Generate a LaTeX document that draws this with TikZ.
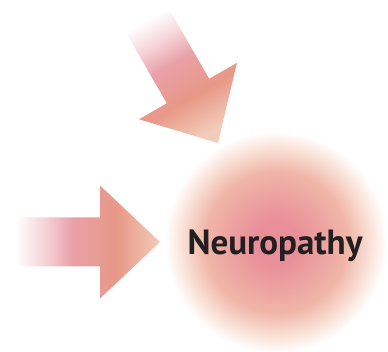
\documentclass[tikz,border=0pt]{standalone}
\usepackage{fontspec}
\setmainfont{PT Sans}
\usetikzlibrary{positioning}

\definecolor{ballcore}{RGB}{233,143,153}
\definecolor{ballmid}{RGB}{240,182,168}
\definecolor{ballrim}{RGB}{250,228,218}
\definecolor{arrowpink}{RGB}{233,160,168}
\definecolor{arrowsalmon}{RGB}{232,152,134}
\definecolor{arrowtip}{RGB}{243,203,185}
\definecolor{labelgray}{RGB}{35,31,32}

\pgfdeclareradialshading{neuroglow}{\pgfpoint{0bp}{0bp}}{color(0bp)=(ballcore); color(5bp)=(ballcore); color(16bp)=(ballmid); color(21.5bp)=(ballrim); color(25bp)=(white); color(50bp)=(white)}
\pgfdeclarehorizontalshading{arrowglow}{100bp}{color(0bp)=(white); color(25bp)=(white); color(35bp)=(arrowpink!45!white); color(45bp)=(arrowpink); color(60bp)=(arrowsalmon); color(75bp)=(arrowtip); color(100bp)=(arrowtip)}

\tikzset{
  glowball/.style={circle, minimum size=222pt, inner sep=0pt, shading=neuroglow},
  fadearrow/.style={shading=arrowglow},
  labeltext/.style={font=\bfseries\fontsize{35}{35}\selectfont, text=labelgray}
}

\begin{document}
\begin{tikzpicture}[x=1pt, y=1pt]
  \useasboundingbox (0,0) rectangle (388,352);

  % Neuropathy ball
  \shade[glowball] (276,110) circle (111);
  \node[glowball, fill=none] (ball) at (276,110) {};

  % Arrow from the left
  \begin{scope}[shift={(160,110)}]
    \shade[fadearrow] (0,0) -- (-60,56.5) -- (-60,24.5) -- (-145,24.5)
      -- (-145,-24.5) -- (-60,-24.5) -- (-60,-56.5) -- cycle;
  \end{scope}

  % Arrow from above
  \begin{scope}[shift={(218,209)}, rotate=-60]
    \shade[fadearrow, shading angle=-60] (0,0) -- (-60,56.5) -- (-60,24.5) -- (-145,24.5)
      -- (-145,-24.5) -- (-60,-24.5) -- (-60,-56.5) -- cycle;
  \end{scope}

  % Label
  \node[labeltext] (label) at (275,106) {Neuropathy};
\end{tikzpicture}
\end{document}
